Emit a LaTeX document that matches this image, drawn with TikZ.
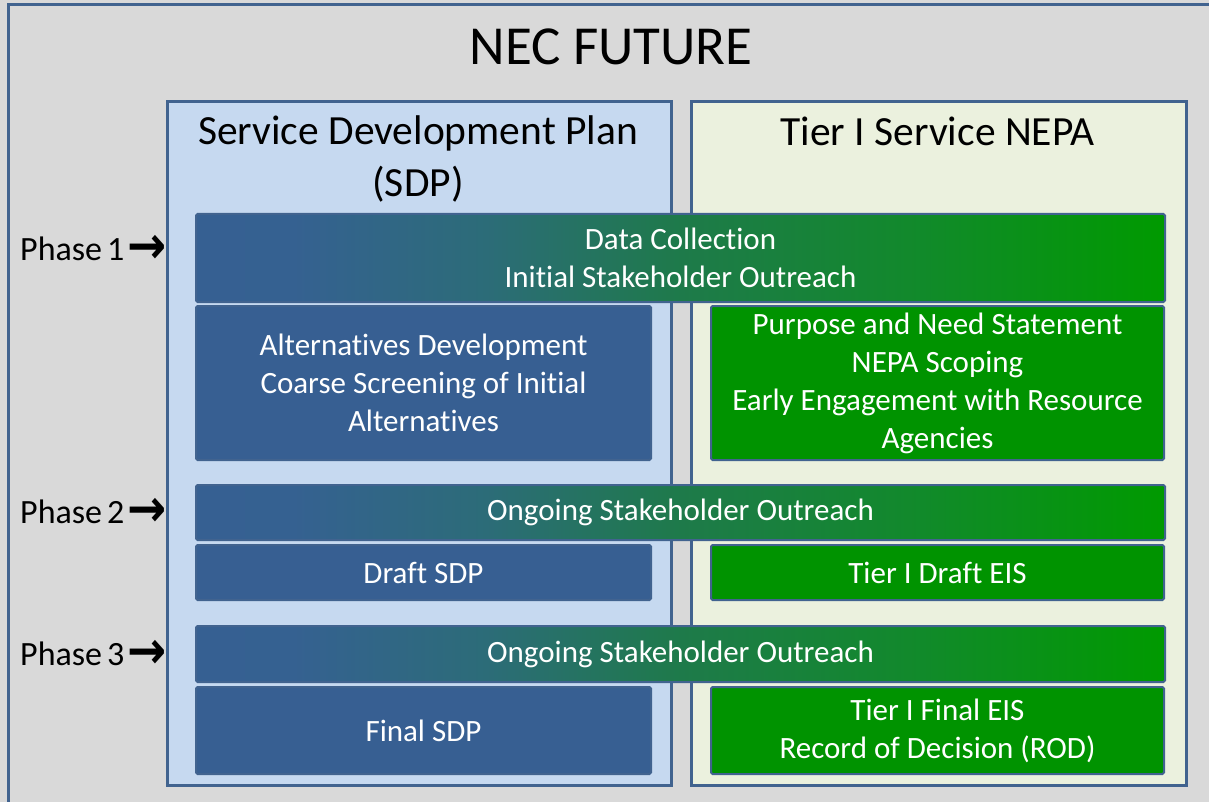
\documentclass[tikz,border=0pt]{standalone}
\usepackage{fontspec}
\setmainfont[Ligatures=NoCommon]{Carlito}
\newfontfamily\symfont{DejaVu Sans}
\definecolor{bgray}{HTML}{D9D9D9}
\definecolor{frameblue}{HTML}{41638F}
\definecolor{sdpfill}{HTML}{C6D9F0}
\definecolor{nepafill}{HTML}{EBF1DE}
\definecolor{boxblue}{HTML}{375F92}
\definecolor{boxgreen}{HTML}{009300}
\definecolor{gA}{HTML}{366092}
\definecolor{gB}{HTML}{356191}
\definecolor{gC}{HTML}{2C6C78}
\definecolor{gD}{HTML}{1E7A4A}
\definecolor{gE}{HTML}{118A2A}
\definecolor{gF}{HTML}{009A00}
\pgfdeclarehorizontalshading{phasegrad}{100bp}{color(0bp)=(gA); color(25bp)=(gA); color(30bp)=(gB); color(40bp)=(gC); color(50bp)=(gD); color(62.5bp)=(gE); color(75bp)=(gF); color(100bp)=(gF)}
\newcommand{\phasearrow}{\raisebox{-3.5pt}{\scalebox{1.3}[1.45]{\symfont\bfseries\fontsize{36}{38}\selectfont→}}}
\tikzset{
  panel/.style={draw=frameblue, line width=3pt, inner sep=0pt, anchor=north west},
  box/.style={draw=frameblue, line width=2pt, rounded corners=1.5pt, inner sep=0pt,
    text=white, align=center, font=\fontsize{31}{38}\selectfont},
  bluebox/.style={box, fill=boxblue},
  greenbox/.style={box, fill=boxgreen},
  phasebar/.style={box, shading=phasegrad},
  paneltitle/.style={align=center, text=black, font=\fontsize{41.5}{52}\selectfont, inner sep=0pt},
  phaselabel/.style={anchor=base west, text=black, font=\fontsize{34}{38}\selectfont, inner sep=0pt},
}
\begin{document}
\begin{tikzpicture}[x=1pt,y=-1pt]
\useasboundingbox (0,0) rectangle (1209,802);
\clip (0,0) rectangle (1209,802);
\fill[bgray] (0,0) rectangle (1209,802);
\draw[frameblue, line width=3pt] (8,5) rectangle (1240,840);
\node[font=\fontsize{55}{60}\selectfont, inner sep=0pt] (title) at (611,47) {NEC FUTURE};
% panels
\node[panel, fill=sdpfill, minimum width=504pt, minimum height=684pt] (sdp) at (166,100) {};
\node[panel, fill=nepafill, minimum width=495pt, minimum height=684pt] (nepa) at (690,100) {};
\node[paneltitle] (sdpt) at (418,159) {Service Development Plan\\(SDP)};
\node[paneltitle, anchor=base] (nepat) at (937.5,146) {Tier I Service NEPA};
% phase 1
\node[phasebar, minimum width=969pt, minimum height=88pt] (bar1) at (680.5,258) {Data Collection\\Initial Stakeholder Outreach};
\node[bluebox, minimum width=455pt, minimum height=154pt] (alt) at (423.5,383) {Alternatives Development\\Coarse Screening of Initial\\Alternatives};
\node[greenbox, minimum width=453pt, minimum height=154pt] (pn) at (937.5,383) {Purpose and Need Statement\\NEPA Scoping\\Early Engagement with Resource\\Agencies};
% phase 2
\node[phasebar, minimum width=969pt, minimum height=55pt] (bar2) at (680.5,512.5) {Ongoing Stakeholder Outreach};
\node[bluebox, minimum width=455pt, minimum height=55pt] (dsdp) at (423.5,572.5) {Draft SDP};
\node[greenbox, minimum width=453pt, minimum height=55pt] (deis) at (937.5,572.5) {Tier I Draft EIS};
% phase 3
\node[phasebar, minimum width=969pt, minimum height=56pt] (bar3) at (680.5,654) {Ongoing Stakeholder Outreach};
\node[bluebox, minimum width=455pt, minimum height=87pt] (fsdp) at (423.5,730.5) {Final SDP};
\node[greenbox, minimum width=453pt, minimum height=87pt] (feis) at (937.5,730.5) {Tier I Final EIS\\Record of Decision (ROD)};
% phase labels
\node[phaselabel] (p1) at (20,260) {Phase\kern5pt 1\kern3pt\phasearrow};
\node[phaselabel] (p2) at (20,523) {Phase\kern5pt 2\kern3pt\phasearrow};
\node[phaselabel] (p3) at (20,665) {Phase\kern5pt 3\kern3pt\phasearrow};
\end{tikzpicture}
\end{document}
